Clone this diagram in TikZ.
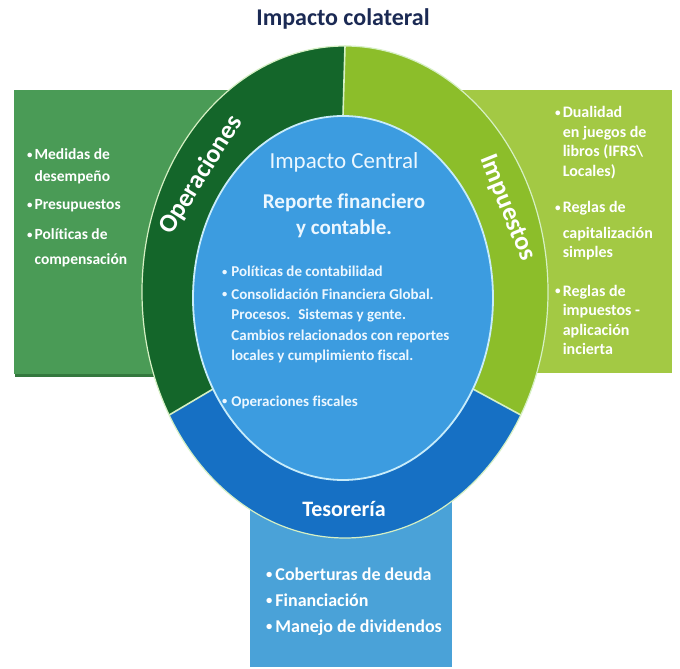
\documentclass[tikz,border=0pt]{standalone}
\usepackage{fontspec}
\setmainfont{Carlito}[Ligatures=NoCommon]
\usetikzlibrary{calc}

\definecolor{titlenavy}{RGB}{27,42,84}
\definecolor{opsbox}{RGB}{74,155,86}
\definecolor{opsshade}{RGB}{52,120,62}
\definecolor{opsring}{RGB}{20,102,42}
\definecolor{taxbox}{RGB}{163,201,68}
\definecolor{taxring}{RGB}{140,190,42}
\definecolor{treasring}{RGB}{22,112,196}
\definecolor{treasbox}{RGB}{74,162,216}
\definecolor{corefill}{RGB}{60,156,224}
\definecolor{coreline}{RGB}{200,236,250}
\definecolor{ringline}{RGB}{214,240,196}
\definecolor{coretext}{RGB}{236,247,255}

% small raised bullet used in every list
\newcommand{\dotb}{\raisebox{0.12em}{\scalebox{0.7}{•}}}

\begin{document}
\begin{tikzpicture}[x=1pt,y=1pt,
  listtext/.style={inner sep=0pt, text=white, anchor=base west, font=\bfseries},
  ringlabel/.style={inner sep=0pt, text=white, font=\bfseries\fontsize{26}{26}\selectfont},
  divider/.style={draw=ringline, line width=1.6pt}]
\useasboundingbox (0,0) rectangle (680,669);
\fill[white] (0,0) rectangle (680,669);

% ellipse centres
\coordinate (O) at (345,377);
\coordinate (I) at (343,371);

% side panels and the bottom panel
\fill[opsshade] (15,292) rectangle (252,577);
\fill[opsbox] (14,295) rectangle (250,579);
\fill[taxbox] (440,296) rectangle (672,579);
\fill[treasbox] (250,2) rectangle (452,190);

% outer ring, three sectors
\fill[opsring] ($(O)+(90:203 and 246)$)
  arc[start angle=90,end angle=210,x radius=203,y radius=246]
  -- ($(I)+(210:150 and 182)$)
  arc[start angle=210,end angle=90,x radius=150,y radius=182] -- cycle;
\fill[taxring] ($(O)+(-30:203 and 246)$)
  arc[start angle=-30,end angle=90,x radius=203,y radius=246]
  -- ($(I)+(90:150 and 182)$)
  arc[start angle=90,end angle=-30,x radius=150,y radius=182] -- cycle;
\fill[treasring] ($(O)+(210:203 and 246)$)
  arc[start angle=210,end angle=330,x radius=203,y radius=246]
  -- ($(I)+(330:150 and 182)$)
  arc[start angle=330,end angle=210,x radius=150,y radius=182] -- cycle;
\draw[draw=ringline, line width=1.2pt] (O) ellipse [x radius=203, y radius=246];

% sector dividers
\draw[divider] ($(I)+(90:150 and 182)$) -- ($(O)+(90:203 and 246)$);
\draw[divider] ($(I)+(210:150 and 182)$) -- ($(O)+(210:203 and 246)$);
\draw[divider] ($(I)+(330:150 and 182)$) -- ($(O)+(330:203 and 246)$);

% central ellipse
\fill[corefill] (I) ellipse [x radius=150, y radius=182];
\draw[draw=coreline, line width=1.8pt] (I) ellipse [x radius=150, y radius=182];

% headings
\node[inner sep=0pt, anchor=base, text=titlenavy, font=\bfseries\fontsize{24}{24}\selectfont]
  (title) at (343,643) {Impacto colateral};
\node[inner sep=0pt, anchor=base, text=coretext, font=\fontsize{23}{23}\selectfont]
  (central) at (344,500) {Impacto Central};
\node[inner sep=0pt, anchor=base, text=coretext, font=\bfseries\fontsize{21}{21}\selectfont]
  (report1) at (344,460) {Reporte financiero};
\node[inner sep=0pt, anchor=base, text=coretext, font=\bfseries\fontsize{21}{21}\selectfont]
  (report2) at (344,434) {y contable.};

% ring labels
\node[ringlabel, rotate=58] (ops) at (201,494) {Operaciones};
\node[ringlabel, rotate=-68] (tax) at (507,461) {Impuestos};
\node[inner sep=0pt, anchor=base, text=white, font=\bfseries\fontsize{22}{22}\selectfont]
  (treas) at (344,152) {Tesorería};

% central list
\node[listtext, text=coretext] (corelist) at (222,392) {\fontsize{15}{20.5}\selectfont
\begin{tabular}[t]{@{}l@{\hspace{4pt}}l@{}}
\dotb & Políticas de contabilidad\\[2pt]
\dotb & Consolidación Financiera Global.\\
 & Procesos.~ Sistemas y gente.\\
 & Cambios relacionados con reportes\\
 & locales y cumplimiento fiscal.\\[25pt]
\dotb & Operaciones fiscales
\end{tabular}};

% operations list
\node[listtext] (opslist) at (27,509) {\fontsize{15.5}{23}\selectfont
\begin{tabular}[t]{@{}l@{\hspace{2pt}}l@{}}
\dotb & Medidas de\\[-1pt]
 & desempeño\\[5pt]
\dotb & Presupuestos\\[7pt]
\dotb & Políticas de\\[2pt]
 & compensación
\end{tabular}};

% tax list
\node[listtext] (taxlist) at (555,551) {\fontsize{16}{19.5}\selectfont
\begin{tabular}[t]{@{}l@{\hspace{2pt}}l@{}}
\dotb & Dualidad\\
 & en juegos de\\
 & libros (IFRS\textbackslash\\
 & Locales)\\[17pt]
\dotb & Reglas de\\[6pt]
 & capitalización\\
 & simples\\[19pt]
\dotb & Reglas de\\
 & impuestos -\\
 & aplicación\\
 & incierta
\end{tabular}};

% treasury list
\node[listtext] (treaslist) at (266,88) {\fontsize{18}{26}\selectfont
\begin{tabular}[t]{@{}l@{\hspace{3pt}}l@{}}
\dotb & Coberturas de deuda\\
\dotb & Financiación\\
\dotb & Manejo de dividendos
\end{tabular}};
\end{tikzpicture}
\end{document}
